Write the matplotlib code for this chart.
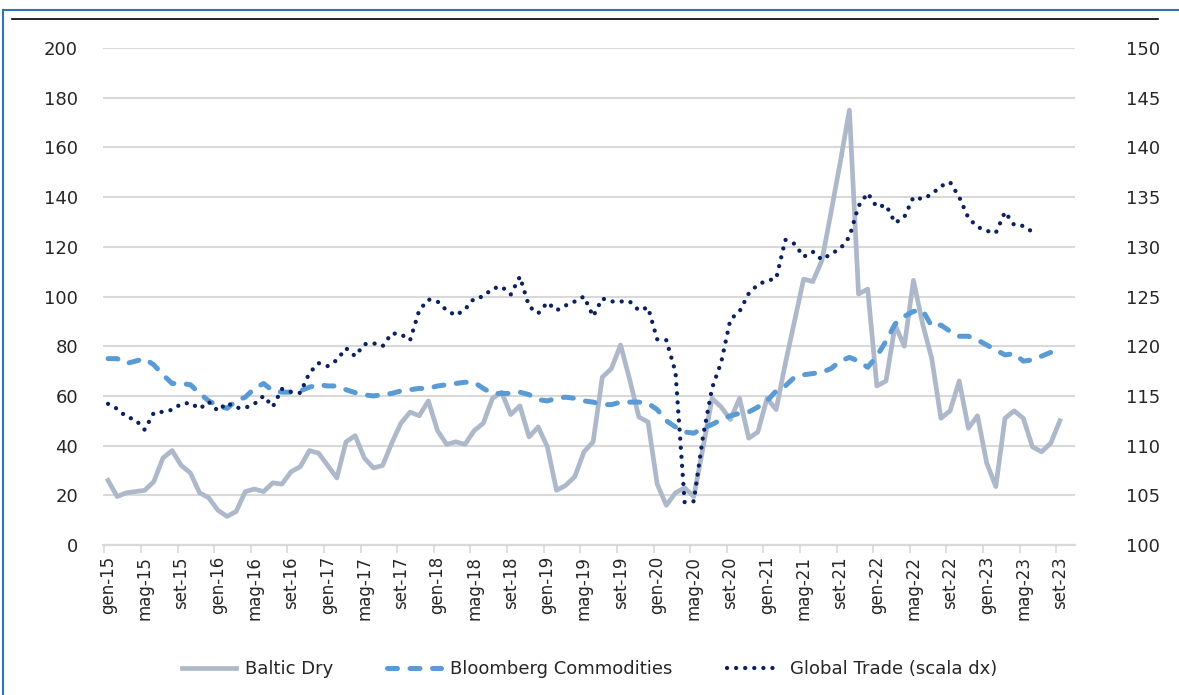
import numpy as np
import matplotlib
matplotlib.use("Agg")
import matplotlib.pyplot as plt
from matplotlib.lines import Line2D
from matplotlib.ticker import FixedLocator

# monthly data, gen-15 .. set-23
baltic = [26, 19.5, 21, 21.5, 22, 25.5, 35, 38, 32, 29,
          21, 19, 14, 11.5, 13.5, 21.5, 22.5, 21.5, 25, 24.5,
          29.5, 31.5, 38, 37, 32, 27, 41.5, 44, 35, 31,
          32, 41, 49, 53.5, 52, 58, 46, 40.5, 41.5, 40.5,
          46, 49, 59, 61.5, 52.5, 56, 43.5, 47.5, 39.5, 22,
          24, 27.5, 37.5, 41.5, 67.5, 71, 80.5, 66.5, 51.5, 49.5,
          24.5, 16, 21, 23, 19.5, 39, 59, 55.5, 50.5, 59,
          43, 45.5, 59, 54.5, 73, 90, 107, 106, 114.5, 134,
          154, 175, 101, 103, 64, 66, 88.5, 80, 106.5, 89,
          75, 51, 54, 66, 47, 52, 33, 23.5, 51, 54,
          51, 39.5, 37.5, 41, 50]

bloomberg = [75, 75, 73, 74, 75, 72.5, 68.5, 65, 65, 64.5,
             61, 58, 56, 55, 58, 59.5, 63, 65, 62, 61.5,
             61.5, 62, 63.5, 64.5, 64, 64, 62.5, 61.3, 60.4, 60,
             60.5, 61, 62, 62.5, 63, 63, 64, 64.5, 65, 65.5,
             65.5, 63, 61, 61, 61, 61.5, 60.5, 58.5, 58, 59,
             59.5, 59, 58, 57.5, 56.5, 56.5, 57.5, 57.5, 57.5, 57,
             54.5, 50, 47.5, 45.5, 45, 47, 48.5, 50.5, 52, 53,
             53.5, 55.5, 58, 62, 64, 67.5, 68.5, 69, 69.5, 71,
             74, 75.5, 74, 71.5, 76, 82, 89, 92, 94, 94.5,
             88, 88.5, 86, 84, 84, 82.5, 80.5, 78.5, 76.5, 77,
             74, 74.5, 76, 77.5, 78]

global_trade = [114.2, 113.7, 112.9, 112.6, 111.6, 113.3, 113.4, 113.6, 114.2, 114.3,
                113.7, 114.4, 113.5, 114.3, 113.8, 113.8, 114.2, 115, 113.9, 115.7,
                115.4, 115.3, 117.3, 118.3, 118, 118.6, 119.8, 119, 120.2, 120.3,
                120, 121.3, 121.2, 120.6, 123.6, 124.7, 124.5, 123.6, 123.1, 123.7,
                124.8, 125, 125.8, 126, 125.2, 127, 124, 123.3, 124.4, 123.6,
                124.1, 124.5, 125, 123, 124.8, 124.5, 124.5, 124.5, 123.6, 123.9,
                120.7, 120.6, 117.4, 104.3, 104.4, 110.9, 115.8, 118.4, 122.7, 123.5,
                125.3, 126.2, 126.6, 126.8, 130.7, 130.3, 129, 129.5, 128.7, 129.3,
                129.8, 131, 134.1, 135.4, 134, 134.2, 132.4, 133, 135, 134.8,
                135.3, 136.1, 136.5, 135, 132.9, 132, 131.6, 131.4, 133.5, 132.2,
                132.1, 131.5]

month_abbr = ["gen", "mag", "set"]
years = list(range(15, 24))
tick_labels = [f"{m}-{y}" for y in years for m in month_abbr]

months = np.arange(len(baltic))
months_gt = np.arange(len(global_trade))

plt.rcParams['font.family'] = ['DejaVu Sans']
txt_color = '#262626'
grid_color = '#d9d9d9'

fig = plt.figure(figsize=(11.79, 6.95), dpi=100)
ax = fig.add_axes([103 / 1179, 1 - 545 / 695, (1075 - 103) / 1179, (545 - 48) / 695])
ax2 = ax.twinx()

l1, = ax.plot(months, baltic, color='#adb9ca', lw=3.4, solid_joinstyle='round',
              label='Baltic Dry')
l2, = ax.plot(months, bloomberg, color='#5b9bd5', lw=3.6, dashes=(2.0, 2.5),
              dash_capstyle='round', label='Bloomberg Commodities')
l3, = ax2.plot(months_gt, global_trade, color='#0b2160', lw=3.1, dashes=(0.01, 2.1),
               dash_capstyle='round', label='Global Trade (scala dx)')

ax.set_ylim(0, 200)
ax.set_yticks(range(0, 201, 20))
ax2.set_ylim(100, 150)
ax2.set_yticks(range(100, 151, 5))
ax.set_xlim(-0.55, 105.65)

ax.grid(axis='y', color=grid_color, lw=1.5)
ax.set_axisbelow(True)
for a in (ax, ax2):
    for s in ('top', 'left', 'right'):
        a.spines[s].set_visible(False)
    a.spines['bottom'].set_color(grid_color)
    a.spines['bottom'].set_linewidth(1.5)

# labels on the data points, tick marks between them
ax.xaxis.set_major_locator(FixedLocator(np.arange(0, 105, 4)))
ax.set_xticklabels(tick_labels, rotation=90)
ax.xaxis.set_minor_locator(FixedLocator(np.arange(0, 105, 4) - 0.4))
ax.tick_params(axis='x', which='major', length=0, pad=8, labelsize=12, labelcolor=txt_color)
ax.tick_params(axis='x', which='minor', length=6, width=1.2, color=grid_color)
ax.tick_params(axis='y', length=0, pad=18, labelsize=13, labelcolor=txt_color)
ax2.tick_params(axis='y', length=0, pad=37, labelsize=13, labelcolor=txt_color)

fig.legend(handles=[l1, l2, l3], loc='center', bbox_to_anchor=(0.5, 1 - 669 / 695),
           ncol=3, frameon=False, fontsize=13, handlelength=3.0,
           handletextpad=0.5, columnspacing=3.0, labelcolor=txt_color)

# frame of the original slide
fig.add_artist(Line2D([3 / 1179, 3 / 1179], [0, 1 - 10 / 695], color='#2e75b6', lw=1.5))
fig.add_artist(Line2D([3 / 1179, 1], [1 - 10 / 695, 1 - 10 / 695], color='#2e75b6', lw=1.5))
fig.add_artist(Line2D([12 / 1179, 1158 / 1179], [1 - 19 / 695, 1 - 19 / 695], color='black', lw=1.2))

fig.savefig('out.png', dpi=100)
